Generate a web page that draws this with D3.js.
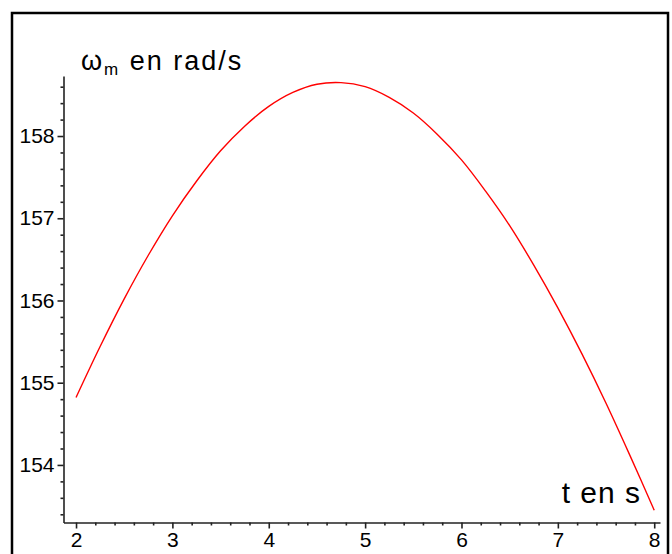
<!DOCTYPE html>
<html>
<head>
<meta charset="utf-8">
<script src="https://cdn.jsdelivr.net/npm/d3@7"></script>
<style>
  body { margin: 0; background: #fff; }
  svg { display: block; }
  text { font-family: "Liberation Sans", Arial, sans-serif; fill: #000; }
</style>
</head>
<body>
<svg></svg>
<script>
// time in s and motor speed in rad/s
var tValues = [2.0, 2.25, 2.5, 2.75, 3.0, 3.25, 3.5, 3.75, 4.0, 4.25, 4.5, 4.75,
               5.0, 5.25, 5.5, 5.75, 6.0, 6.25, 6.5, 6.75, 7.0, 7.25, 7.5, 7.75, 8.0];
var omegaValues = [154.82, 155.44, 156.02, 156.55, 157.03, 157.45, 157.82, 158.12, 158.36, 158.53, 158.63, 158.65,
                   158.60, 158.47, 158.28, 158.02, 157.71, 157.33, 156.91, 156.43, 155.91, 155.35, 154.75, 154.11, 153.45];

var xTicks = [2, 3, 4, 5, 6, 7, 8];
var yTicks = [154, 155, 156, 157, 158];
var xLimits = [1.87, 8.06];
var yLimits = [153.3, 158.73];

var svgWidth = 672, svgHeight = 554;

var svg = d3.select('svg')
    .attr('width', svgWidth)
    .attr('height', svgHeight);

// outer frame
svg.append('rect')
    .attr('x', 12)
    .attr('y', 13)
    .attr('width', 656)
    .attr('height', 560)
    .attr('fill', 'none')
    .attr('stroke', '#000')
    .attr('stroke-width', 2.5);

var xScale = d3.scaleLinear()
    .domain(xLimits)
    .range([63.5, 660]);

var yScale = d3.scaleLinear()
    .domain(yLimits)
    .range([522.5, 76]);

// minor ticks every 0.2
var xMinor = d3.range(2, 8.01, 0.2).filter(function(d) { return Math.abs(d - Math.round(d)) > 0.01; });
var yMinor = d3.range(153.4, 158.7, 0.2).filter(function(d) { return Math.abs(d - Math.round(d)) > 0.01; });

svg.append('g')
    .attr('transform', 'translate(0,522.5)')
    .call(d3.axisBottom(xScale).tickValues(xTicks).tickFormat(d3.format('d'))
        .tickSize(6).tickSizeOuter(0).tickPadding(4));

svg.append('g')
    .attr('transform', 'translate(0,522.5)')
    .call(d3.axisBottom(xScale).tickValues(xMinor).tickSize(3).tickSizeOuter(0).tickFormat(''))
    .select('.domain').remove();

svg.append('g')
    .attr('transform', 'translate(63.5,0)')
    .call(d3.axisLeft(yScale).tickValues(yTicks).tickFormat(d3.format('d'))
        .tickSize(6).tickSizeOuter(0).tickPadding(3));

svg.append('g')
    .attr('transform', 'translate(63.5,0)')
    .call(d3.axisLeft(yScale).tickValues(yMinor).tickSize(3).tickSizeOuter(0).tickFormat(''))
    .select('.domain').remove();

svg.selectAll('.domain').attr('stroke', '#222').attr('stroke-width', 1.6);
svg.selectAll('.tick line').attr('stroke', '#222').attr('stroke-width', 1.6);
svg.selectAll('.tick text')
    .attr('font-family', '"Liberation Sans", Arial, sans-serif')
    .attr('font-size', 21)
    .attr('fill', '#222');

// the curve
var line = d3.line()
    .x(function(d, i) { return xScale(tValues[i]); })
    .y(function(d) { return yScale(d); })
    .curve(d3.curveCatmullRom);

svg.append('path')
    .datum(omegaValues)
    .attr('d', line)
    .attr('fill', 'none')
    .attr('stroke', '#ff0000')
    .attr('stroke-width', 1.4);

// axis titles
var title = svg.append('text')
    .attr('x', 81)
    .attr('y', 70)
    .attr('font-size', 27)
    .attr('letter-spacing', 2);
title.append('tspan').text('ω');
title.append('tspan').attr('font-size', 17).attr('dy', 5).text('m');
title.append('tspan').attr('dy', -5).text(' en rad/s');

svg.append('text')
    .attr('x', 641)
    .attr('y', 503)
    .attr('text-anchor', 'end')
    .attr('font-size', 30)
    .attr('letter-spacing', 1)
    .text('t en s');
</script>
</body>
</html>
